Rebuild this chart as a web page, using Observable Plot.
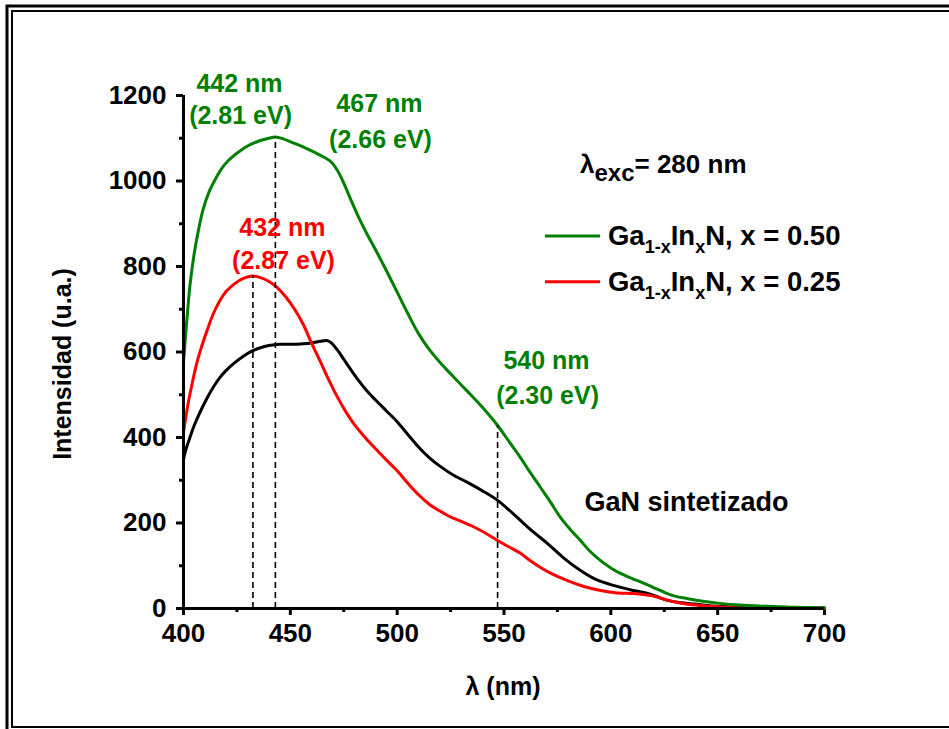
<!DOCTYPE html>
<html><head><meta charset="utf-8">
<script src="https://cdn.jsdelivr.net/npm/d3@7"></script>
<script src="https://cdn.jsdelivr.net/npm/@observablehq/plot@0.6"></script>
<style>
body{margin:0;background:#fff;}
#chart{position:relative;width:949px;height:729px;overflow:hidden;background:#fff;}
svg text{font-family:"Liberation Sans",Arial,sans-serif;font-weight:bold;}
</style></head><body><div id="chart"></div>
<script>
// ---- data ----
const greenWl = [400,401,402,403,405,407,409,412,415,418,421,425,430,435,440,443,447,451,456,461,466,469,472,475,478,482,486,490,495,500,505,510,515,520,525,530,535,540,547,552,557.7,562,567.1,572,576.4,581,585.8,590,595.2,600,604.5,610,615,620,625,630,636,643,651,660,673,685,700];
const greenInt = [575,640,700,755,830,885,930,975,1005,1030,1048,1065,1082,1093,1100,1103,1098,1090,1080,1068,1055,1045,1025,995,960,915,875,838,790,740,690,643,606,576,549,523,497,470,428,393,353,320,283,247,213,185,159,135,112,95,82,70,60,49,38,29,23,17,12,8,5,3,2];

const redWl = [400,401,402,404,406,408,411,414,417,420,424,428,432,436,440,444,448,452,456,460,464,468,472,476,480,485,490,495,500,505,510,515,520,525,530,535,540,547,552,557.7,562,567.1,572,579.7,587,595.2,602,610.6,615,620,625,631,636,642,650,657,670,700];
const redInt = [412,445,475,525,570,605,650,690,720,742,760,772,778,774,765,750,728,700,665,620,578,535,495,460,430,400,373,347,322,293,266,244,228,214,204,193,180,159,145,129,113,96,82,65,52,42,37,35,33,29,22,14,10,7,4,2,1,0];

const blackWl = [400,401,403,405,408,411,414,417,420,424,428,432,436,440,445,450,455,460,464,467,469,472,475,478,482,486,490,495,500,505,510,515,520,526,532.9,540,547,552,557.7,564,570.4,578,585.8,593,601.2,609,617.2,622,626.5,632,636,643,650,665,680,700];
const blackInt = [348,370,400,428,462,492,518,540,557,575,590,602,610,615,618,618,619,621,625,627,622,605,583,561,533,508,487,462,437,407,378,353,333,313,295,275,253,232,206,178,152,118,89,68,54,44,35,27,19,14,12,8,5,3,2,1];

const xTicks = [400,450,500,550,600,650,700];
const xMinorTicks = [425,475,525,575,625,675];
const yTicks = [0,200,400,600,800,1000,1200];
const yMinorTicks = [100,300,500,700,900,1100];

// dashed guide lines: wavelength and top intensity
const guideWl = [443, 432.5, 547];
const guideTop = [1103, 778, 428];

// peak annotations
const annTexts = ["442 nm","(2.81 eV)","467 nm","(2.66 eV)","432 nm","(2.87 eV)","540 nm","(2.30 eV)"];
const annX = [426.2,426.7,491.7,492.2,446.3,446.8,569.9,570.4];
const annY = [1228,1151,1179,1097,889,812,578,496];
const annColor = ["green","green","green","green","red","red","green","green"];

const colors = {"GaN sintetizado":"#000000","x = 0.25":"#ff0000","x = 0.50":"#008000"};

// build table
const rows = [];
blackWl.forEach((w,i)=>rows.push({s:"GaN sintetizado",wl:w,v:blackInt[i]}));
redWl.forEach((w,i)=>rows.push({s:"x = 0.25",wl:w,v:redInt[i]}));
greenWl.forEach((w,i)=>rows.push({s:"x = 0.50",wl:w,v:greenInt[i]}));
const guides = guideWl.map((w,i)=>({wl:w,top:guideTop[i]}));
const anns = annTexts.map((t,i)=>({t,x:annX[i],y:annY[i],c:annColor[i]==="green"?"#008000":"#ff0000"}));

const F = "Liberation Sans, Arial, sans-serif";
const plot = Plot.plot({
  width: 949, height: 729,
  marginLeft: 183, marginRight: 125, marginTop: 95, marginBottom: 121,
  x: {domain:[400,700]},
  y: {domain:[0,1200]},
  style: {fontFamily: F, fontWeight: "bold", fontSize: "24px", background: "white", color: "black", overflow: "visible"},
  marks: [
    Plot.axisX({ticks: xTicks, tickSize: 7, tickPadding: 8, strokeWidth: 3, fontSize: 26, fontWeight: "bold", label: null, tickFormat: d => String(d)}),
    Plot.axisX({ticks: xMinorTicks, tickSize: 4, strokeWidth: 3, tickFormat: () => "", label: null}),
    Plot.axisY({ticks: yTicks, tickSize: 7, tickPadding: 10, strokeWidth: 3, fontSize: 26, fontWeight: "bold", label: null, tickFormat: d => String(d)}),
    Plot.axisY({ticks: yMinorTicks, tickSize: 4, strokeWidth: 3, tickFormat: () => "", label: null}),
    Plot.line(rows, {x: "wl", y: "v", z: "s", stroke: d => colors[d.s], strokeWidth: 3, curve: "catmull-rom"}),
    Plot.ruleX(guides, {x: "wl", y1: 0, y2: "top", stroke: "black", strokeWidth: 1.6, strokeDasharray: "6,4"}),
    Plot.ruleY([0], {stroke: "black", strokeWidth: 3}),
    Plot.ruleX([400], {stroke: "black", strokeWidth: 3}),
    Plot.text(anns, {x: "x", y: "y", text: "t", fill: "c", fontSize: 25, fontWeight: "bold", textAnchor: "middle"}),
    Plot.text(["GaN sintetizado"], {x: 635.4, y: 248, text: d => d, fill: "black", fontSize: 27, fontWeight: "bold", textAnchor: "middle"})
  ]
});
document.getElementById("chart").appendChild(plot);

const sx = plot.scale("x"), sy = plot.scale("y");
const svg = d3.select(plot);

// frame
svg.append("path").attr("d","M949,6H7V729").attr("fill","none").attr("stroke","black").attr("stroke-width",3);
svg.append("path").attr("d","M949,11H12V727H949").attr("fill","none").attr("stroke","black").attr("stroke-width",2);

// axis titles
svg.append("text").attr("x",503).attr("y",695).attr("text-anchor","middle").attr("font-size",25).attr("font-family",F).attr("font-weight","bold").text("λ (nm)");
svg.append("text").attr("transform","translate(71,364) rotate(-90)").attr("text-anchor","middle").attr("font-size",25).attr("font-family",F).attr("font-weight","bold").text("Intensidad (u.a.)");

function rich(x, y, parts, size, subSize, fill){
  const t = svg.append("text").attr("x",x).attr("y",y).attr("text-anchor","start").attr("font-size",size).attr("font-family",F).attr("font-weight","bold").attr("fill",fill);
  let shift = 0;
  parts.forEach(p=>{
    const target = p.sub ? 8 : 0;
    t.append("tspan").attr("dy", target - shift).attr("font-size", p.sub ? subSize : size).text(p.t);
    shift = target;
  });
}

// excitation label
rich(sx.apply(585.8), sy.apply(1041)+10, [{t:"λ"},{t:"exc",sub:true},{t:"= 280 nm"}], 26, 24, "black");

// legend
const legendItems = [
  {c:"#008000", y:870, label:"x = 0.50"},
  {c:"#ff0000", y:763, label:"x = 0.25"}
];
legendItems.forEach(it=>{
  const yy = sy.apply(it.y);
  svg.append("line").attr("x1",sx.apply(569.4)).attr("x2",sx.apply(595.2)).attr("y1",yy).attr("y2",yy).attr("stroke",it.c).attr("stroke-width",3);
  rich(sx.apply(598.9), yy+9, [{t:"Ga"},{t:"1-x",sub:true},{t:"In"},{t:"x",sub:true},{t:"N, "+it.label}], 27.5, 18, "black");
});
</script></body></html>
